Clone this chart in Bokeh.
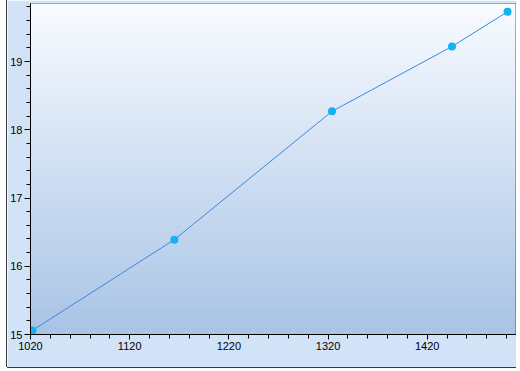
import numpy as np
from bokeh.plotting import figure
from bokeh.models import FixedTicker, Range1d, ColumnDataSource
from bokeh.embed import file_html
from bokeh.resources import INLINE

# data
x_vals = [1022, 1165, 1324, 1445, 1501]
y_vals = [15.06, 16.39, 18.27, 19.22, 19.73]

x_major = [1020, 1120, 1220, 1320, 1420]
x_minor = list(range(1020, 1520, 20))
y_major = [15, 16, 17, 18, 19]
y_minor = [round(15 + 0.2 * i, 1) for i in range(0, 25)]

x_lo, x_hi = 1020, 1509
y_lo, y_hi = 15.0, 19.85

p = figure(width=509, height=367, output_backend="svg", toolbar_location=None,
           x_range=Range1d(x_lo, x_hi), y_range=Range1d(y_lo, y_hi),
           min_border_left=22, min_border_right=1, min_border_top=3, min_border_bottom=33)
p.margin = (0, 0, 0, 7)
p.styles = {"box-shadow": "-1px 0 0 #3a3a3a, 0 1px 0 #3a3a3a"}
p.border_fill_color = "#d2e3f8"
p.background_fill_color = "#f7faff"
p.outline_line_color = "#111111"
p.outline_line_width = 1
p.grid.visible = False

# vertical gradient background made of thin stripes
n = 120
edges = np.linspace(y_lo, y_hi, n + 1)
top_c = np.array([0xf8, 0xfb, 0xff])
bot_c = np.array([0xa8, 0xc3, 0xe6])
cols = []
for i in range(n):
    t = (i + 0.5) / n
    c = bot_c + (top_c - bot_c) * t
    cols.append("#%02x%02x%02x" % tuple(int(round(v)) for v in c))
bg = ColumnDataSource(dict(bottom=edges[:-1], top=edges[1:], color=cols))
p.quad(left=x_lo, right=x_hi, bottom="bottom", top="top", fill_color="color",
       line_color="color", line_width=1, source=bg)

p.line(x_vals, y_vals, line_color="#3c86dc", line_width=1)
p.scatter(x_vals, y_vals, size=8, fill_color="#14b2f2", line_color=None)

for ax, major, minor in ((p.xaxis[0], x_major, x_minor), (p.yaxis[0], y_major, y_minor)):
    ax.ticker = FixedTicker(ticks=major, minor_ticks=minor)
    ax.axis_line_color = "#000000"
    ax.major_tick_line_color = "#000000"
    ax.minor_tick_line_color = "#000000"
    ax.major_tick_in = 0
    ax.minor_tick_in = 0
    ax.major_label_text_font = "Liberation Sans"
    ax.major_label_text_font_size = "11px"
    ax.major_label_text_color = "#000000"

p.xaxis.major_tick_out = 5
p.xaxis.minor_tick_out = 4
p.yaxis.major_tick_out = 6
p.yaxis.minor_tick_out = 4
p.xaxis.major_label_standoff = 2
p.yaxis.major_label_standoff = 2

open("out.html", "w").write(file_html(p, INLINE))
